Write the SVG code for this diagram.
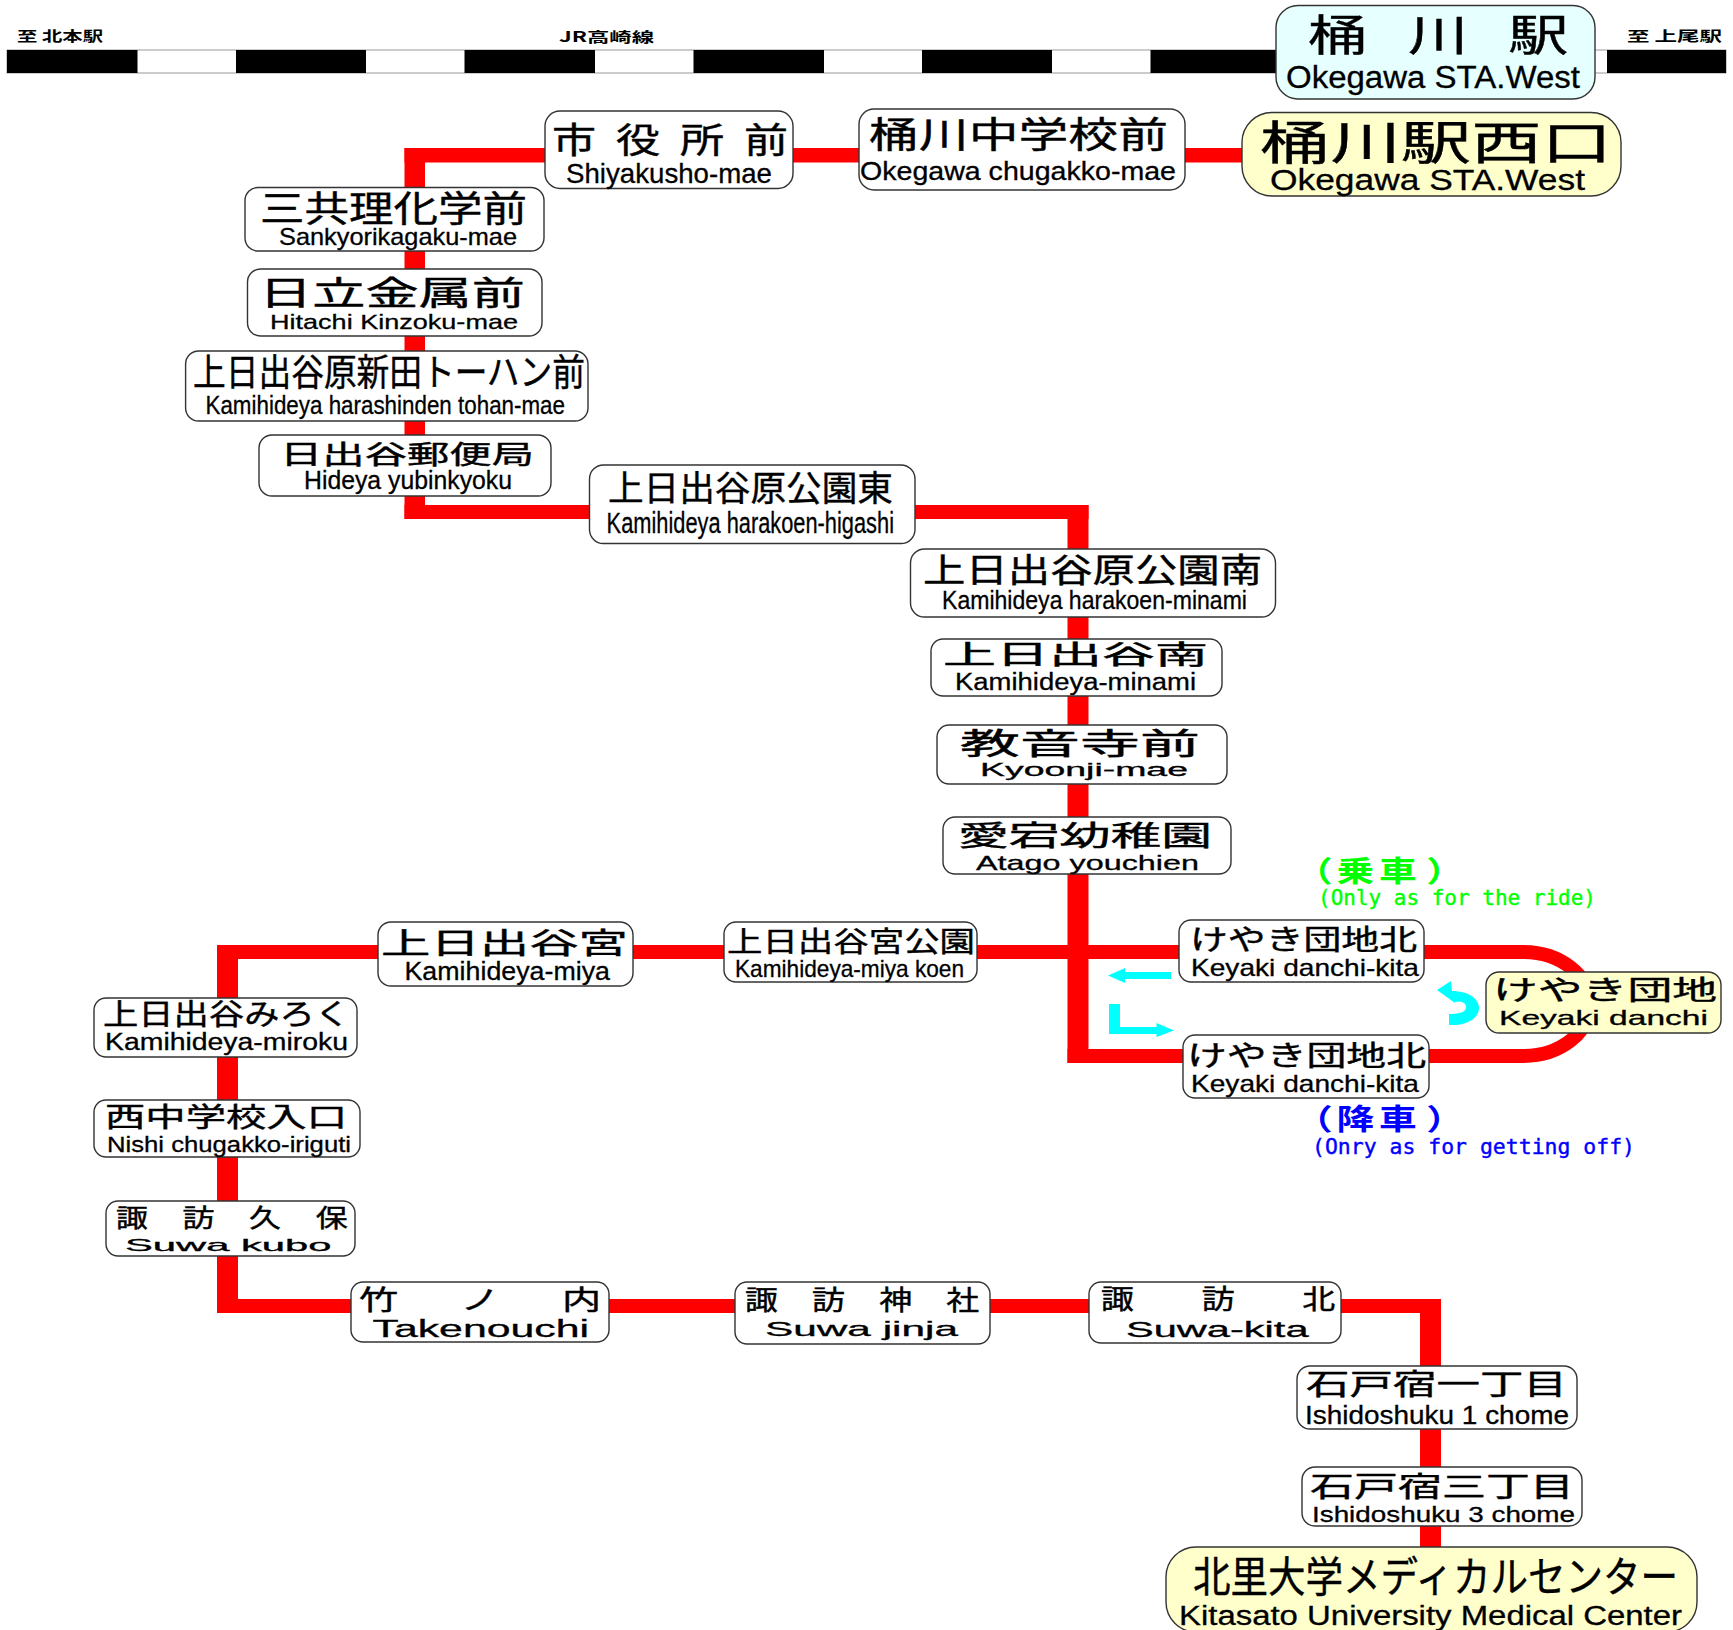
<svg xmlns="http://www.w3.org/2000/svg" width="1733" height="1630" viewBox="0 0 1733 1630">
<style>
.box{fill:#fff;stroke:#333;stroke-width:1.4}
.j,.js{font-family:"Noto Sans CJK JP",sans-serif;fill:#000;stroke:#000;stroke-width:.4}
.e{font-family:"Liberation Sans",Arial,sans-serif;fill:#000;stroke:#000;stroke-width:.3}
.h{font-family:"Noto Sans CJK JP",sans-serif;font-weight:700;font-size:14px;fill:#000}
.n{font-family:"Noto Sans CJK JP",sans-serif;font-weight:700;font-size:29px}
.m{font-family:"DejaVu Sans Mono","Liberation Mono",monospace;font-size:22px;stroke-width:.4}
.red{fill:#f00}
.cy{fill:#0ff}
.bk{fill:#000}
.wh{fill:#fff;stroke:#999;stroke-width:1}
</style>
<g id="track">
<rect class="wh" x="7" y="50" width="1719" height="23"/>
<rect class="bk" x="7" y="50" width="130.500" height="23"/>
<rect class="bk" x="236" y="50" width="130" height="23"/>
<rect class="bk" x="464.500" y="50" width="130.500" height="23"/>
<rect class="bk" x="693.500" y="50" width="130.500" height="23"/>
<rect class="bk" x="922" y="50" width="130" height="23"/>
<rect class="bk" x="1150.500" y="50" width="130" height="23"/>
<rect class="bk" x="1607" y="50" width="119" height="23"/>
<text class="h" x="17" y="41" textLength="86" lengthAdjust="spacingAndGlyphs">至 北本駅</text>
<text class="h" x="559" y="42" textLength="95" lengthAdjust="spacingAndGlyphs">JR高崎線</text>
<text class="h" x="1627" y="41" textLength="95" lengthAdjust="spacingAndGlyphs">至 上尾駅</text>
</g>
<g id="connectors">
<rect class="red" x="404.500" y="148" width="20.500" height="371"/>
<rect class="red" x="404.500" y="148" width="850" height="14.500"/>
<rect class="red" x="404.500" y="505" width="684" height="14"/>
<rect class="red" x="1067.500" y="505" width="21" height="558"/>
<rect class="red" x="217" y="945" width="1307" height="14"/>
<rect class="red" x="1067.500" y="1049" width="456.500" height="14"/>
<path d="M1523 952A67 52 0 0 1 1523 1056" fill="none" stroke="#f00" stroke-width="14"/>
<rect class="red" x="217" y="945" width="21" height="368"/>
<rect class="red" x="217" y="1299" width="1224" height="14"/>
<rect class="red" x="1420" y="1299" width="21" height="260"/>
</g>
<g id="direction-arrows">
<path class="cy" d="M1108 975.500L1125 968V972H1171V979H1125V983Z"/>
<path class="cy" d="M1109 1004H1120V1027H1156.500V1023L1174 1030.500L1156.500 1037V1034H1109Z"/>
<path class="cy" d="M1437 990L1451 981L1452 991C1471 991 1480 1001 1479 1009C1478 1019 1466 1026 1449 1025V1014C1460 1014 1466 1012 1466 1007C1466 1002 1461 1001 1455 1002L1455 1003Z"/>
</g>
<g id="st-okegawa"><rect class="box" style="fill:#e6ffff" x="1276" y="5.500" width="319" height="93.500" rx="22"/>
<text class="js" transform="translate(1308,51) scale(1.4,1)" x="0 71.400 143" font-size="43">桶川駅</text>
<text class="e" x="1286" y="88" font-size="31" textLength="294" lengthAdjust="spacingAndGlyphs">Okegawa STA.West</text></g>
<g id="st-okegawa-west"><rect class="box" style="fill:#ffc" x="1242" y="112.500" width="379" height="83.500" rx="30"/>
<text class="j" x="1260" y="159" font-size="46" textLength="352" lengthAdjust="spacingAndGlyphs">桶川駅西口</text>
<text class="e" x="1270" y="190" font-size="30" textLength="315" lengthAdjust="spacingAndGlyphs">Okegawa STA.West</text></g>
<g id="st-okegawa-chu"><rect class="box" x="859" y="109" width="326" height="81" rx="15"/>
<text class="j" x="869" y="148" font-size="36" textLength="299" lengthAdjust="spacingAndGlyphs">桶川中学校前</text>
<text class="e" x="860" y="180" font-size="25" textLength="316" lengthAdjust="spacingAndGlyphs">Okegawa chugakko-mae</text></g>
<g id="st-shiyakusho"><rect class="box" x="545" y="111" width="248" height="77.500" rx="15"/>
<text class="js" transform="translate(552,153) scale(1.26,1)" x="0 50.800 101.600 152.400" font-size="35">市役所前</text>
<text class="e" x="566" y="183" font-size="28" textLength="206" lengthAdjust="spacingAndGlyphs">Shiyakusho-mae</text></g>
<g id="st-sankyo"><rect class="box" x="245" y="187.500" width="299" height="63.500" rx="13"/>
<text class="j" x="260" y="222" font-size="36" textLength="267" lengthAdjust="spacingAndGlyphs">三共理化学前</text>
<text class="e" x="279" y="245" font-size="24" textLength="238" lengthAdjust="spacingAndGlyphs">Sankyorikagaku-mae</text></g>
<g id="st-hitachi"><rect class="box" x="247.500" y="269" width="294.500" height="67" rx="13"/>
<text class="j" x="259" y="305" font-size="33" textLength="266" lengthAdjust="spacingAndGlyphs">日立金属前</text>
<text class="e" x="270" y="329" font-size="21" textLength="248" lengthAdjust="spacingAndGlyphs">Hitachi Kinzoku-mae</text></g>
<g id="st-tohan"><rect class="box" x="185.600" y="351" width="402.400" height="70" rx="13"/>
<text class="j" x="193" y="386" font-size="37" textLength="392" lengthAdjust="spacingAndGlyphs">上日出谷原新田トーハン前</text>
<text class="e" x="205.500" y="414" font-size="26" textLength="359.500" lengthAdjust="spacingAndGlyphs">Kamihideya harashinden tohan-mae</text></g>
<g id="st-yubinkyoku"><rect class="box" x="259" y="435" width="292" height="61" rx="13"/>
<text class="j" x="280" y="464" font-size="26" textLength="254" lengthAdjust="spacingAndGlyphs">日出谷郵便局</text>
<text class="e" x="304" y="489" font-size="25" textLength="208" lengthAdjust="spacingAndGlyphs">Hideya yubinkyoku</text></g>
<g id="st-harakoen-higashi"><rect class="box" x="589.500" y="465" width="325.500" height="78.500" rx="14"/>
<text class="j" x="608" y="501" font-size="35" textLength="285" lengthAdjust="spacingAndGlyphs">上日出谷原公園東</text>
<text class="e" x="606.600" y="533" font-size="29" textLength="287.400" lengthAdjust="spacingAndGlyphs">Kamihideya harakoen-higashi</text></g>
<g id="st-harakoen-minami"><rect class="box" x="910.500" y="549" width="365" height="68" rx="14"/>
<text class="j" x="923" y="582" font-size="33" textLength="339" lengthAdjust="spacingAndGlyphs">上日出谷原公園南</text>
<text class="e" x="942" y="609" font-size="26" textLength="305" lengthAdjust="spacingAndGlyphs">Kamihideya harakoen-minami</text></g>
<g id="st-minami"><rect class="box" x="931" y="639" width="291" height="57" rx="12"/>
<text class="j" x="943" y="664" font-size="26" textLength="265" lengthAdjust="spacingAndGlyphs">上日出谷南</text>
<text class="e" x="955" y="690" font-size="23" textLength="241" lengthAdjust="spacingAndGlyphs">Kamihideya-minami</text></g>
<g id="st-kyoonji"><rect class="box" x="937" y="725" width="290" height="59" rx="12"/>
<text class="j" x="960" y="754" font-size="30" textLength="240" lengthAdjust="spacingAndGlyphs">教音寺前</text>
<text class="e" x="980" y="776" font-size="18" textLength="208" lengthAdjust="spacingAndGlyphs">Kyoonji-mae</text></g>
<g id="st-atago"><rect class="box" x="943" y="817" width="288" height="57" rx="12"/>
<text class="j" x="958" y="846" font-size="28" textLength="254" lengthAdjust="spacingAndGlyphs">愛宕幼稚園</text>
<text class="e" x="976" y="870" font-size="21" textLength="223" lengthAdjust="spacingAndGlyphs">Atago youchien</text></g>
<g id="st-miya"><rect class="box" x="378" y="922" width="255" height="64" rx="13"/>
<text class="j" x="381" y="954" font-size="29" textLength="247" lengthAdjust="spacingAndGlyphs">上日出谷宮</text>
<text class="e" x="404.500" y="980" font-size="26" textLength="205.500" lengthAdjust="spacingAndGlyphs">Kamihideya-miya</text></g>
<g id="st-miya-koen"><rect class="box" x="724" y="922" width="253" height="60" rx="12"/>
<text class="j" x="727" y="952" font-size="28" textLength="248" lengthAdjust="spacingAndGlyphs">上日出谷宮公園</text>
<text class="e" x="735" y="977" font-size="24" textLength="229" lengthAdjust="spacingAndGlyphs">Kamihideya-miya koen</text></g>
<g id="st-keyaki-kita-ride"><rect class="box" x="1179" y="920" width="245" height="62" rx="12"/>
<text class="j" x="1190" y="950" font-size="28" textLength="227" lengthAdjust="spacingAndGlyphs">けやき団地北</text>
<text class="e" x="1191" y="976" font-size="24" textLength="228" lengthAdjust="spacingAndGlyphs">Keyaki danchi-kita</text></g>
<g id="st-keyaki-kita-off"><rect class="box" x="1183" y="1035" width="246" height="63" rx="12"/>
<text class="j" x="1187" y="1066" font-size="28" textLength="239" lengthAdjust="spacingAndGlyphs">けやき団地北</text>
<text class="e" x="1191" y="1092" font-size="24" textLength="228" lengthAdjust="spacingAndGlyphs">Keyaki danchi-kita</text></g>
<g id="st-keyaki"><rect class="box" style="fill:#ffc" x="1486" y="972" width="235" height="61" rx="13"/>
<text class="j" x="1493" y="1000" font-size="27" textLength="224" lengthAdjust="spacingAndGlyphs">けやき団地</text>
<text class="e" x="1499" y="1025" font-size="21" textLength="209" lengthAdjust="spacingAndGlyphs">Keyaki danchi</text></g>
<g id="st-miroku"><rect class="box" x="94" y="998" width="263" height="59" rx="12"/>
<text class="j" x="103" y="1025" font-size="29" textLength="247" lengthAdjust="spacingAndGlyphs">上日出谷みろく</text>
<text class="e" x="105" y="1050" font-size="23" textLength="243" lengthAdjust="spacingAndGlyphs">Kamihideya-miroku</text></g>
<g id="st-nishi-chu"><rect class="box" x="94" y="1100" width="266" height="57" rx="12"/>
<text class="j" x="105" y="1127" font-size="27" textLength="242" lengthAdjust="spacingAndGlyphs">西中学校入口</text>
<text class="e" x="107" y="1152" font-size="22" textLength="244" lengthAdjust="spacingAndGlyphs">Nishi chugakko-iriguti</text></g>
<g id="st-suwa-kubo"><rect class="box" x="106" y="1201" width="249" height="55" rx="12"/>
<text class="js" transform="translate(116,1227) scale(1.28,1)" x="0 52 104 156" font-size="25">諏訪久保</text>
<text class="e" x="125" y="1251" font-size="17" textLength="206.500" lengthAdjust="spacingAndGlyphs">Suwa kubo</text></g>
<g id="st-takenouchi"><rect class="box" x="351" y="1282" width="258" height="60" rx="12"/>
<text class="js" transform="translate(359,1310) scale(1.45,1)" x="0 70 140" font-size="27">竹ノ内</text>
<text class="e" x="372.500" y="1337" font-size="23" textLength="216.500" lengthAdjust="spacingAndGlyphs">Takenouchi</text></g>
<g id="st-suwa-jinja"><rect class="box" x="735" y="1282" width="255" height="62" rx="12"/>
<text class="js" transform="translate(745,1310) scale(1.22,1)" x="0 55 110 165" font-size="27">諏訪神社</text>
<text class="e" x="765" y="1336" font-size="21" textLength="193" lengthAdjust="spacingAndGlyphs">Suwa jinja</text></g>
<g id="st-suwa-kita"><rect class="box" x="1089" y="1282" width="252" height="61" rx="12"/>
<text class="js" transform="translate(1101,1309) scale(1.22,1)" x="0 82.500 165" font-size="27">諏訪北</text>
<text class="e" x="1126" y="1337" font-size="22" textLength="182.500" lengthAdjust="spacingAndGlyphs">Suwa-kita</text></g>
<g id="st-ishido-1"><rect class="box" x="1297" y="1366" width="280" height="63" rx="13"/>
<text class="j" x="1306" y="1395" font-size="29" textLength="261" lengthAdjust="spacingAndGlyphs">石戸宿一丁目</text>
<text class="e" x="1305" y="1424" font-size="25" textLength="264" lengthAdjust="spacingAndGlyphs">Ishidoshuku 1 chome</text></g>
<g id="st-ishido-3"><rect class="box" x="1302" y="1467" width="280" height="59" rx="13"/>
<text class="j" x="1310" y="1497" font-size="28" textLength="264" lengthAdjust="spacingAndGlyphs">石戸宿三丁目</text>
<text class="e" x="1312" y="1522" font-size="22" textLength="263" lengthAdjust="spacingAndGlyphs">Ishidoshuku 3 chome</text></g>
<g id="st-kitasato"><rect class="box" style="fill:#ffc" x="1166" y="1547" width="531" height="85" rx="30"/>
<text class="j" x="1193" y="1592" font-size="42" textLength="485" lengthAdjust="spacingAndGlyphs">北里大学メディカルセンター</text>
<text class="e" x="1179" y="1625" font-size="27" textLength="503" lengthAdjust="spacingAndGlyphs">Kitasato University Medical Center</text></g>
<g id="notes">
<text class="n" transform="translate(1295,882) scale(1.3,1)" x="0 32 64.600 101" fill="#0f0">（乗車）</text>
<text class="m" x="1318" y="905" fill="#0f0" stroke="#0f0" textLength="278" lengthAdjust="spacingAndGlyphs">(Only as for the ride)</text>
<text class="n" transform="translate(1295,1130) scale(1.3,1)" x="0 32 64.600 101" fill="#00f">（降車）</text>
<text class="m" x="1312" y="1154" fill="#00f" stroke="#00f" textLength="323" lengthAdjust="spacingAndGlyphs">(Onry as for getting off)</text>
</g>
</svg>
